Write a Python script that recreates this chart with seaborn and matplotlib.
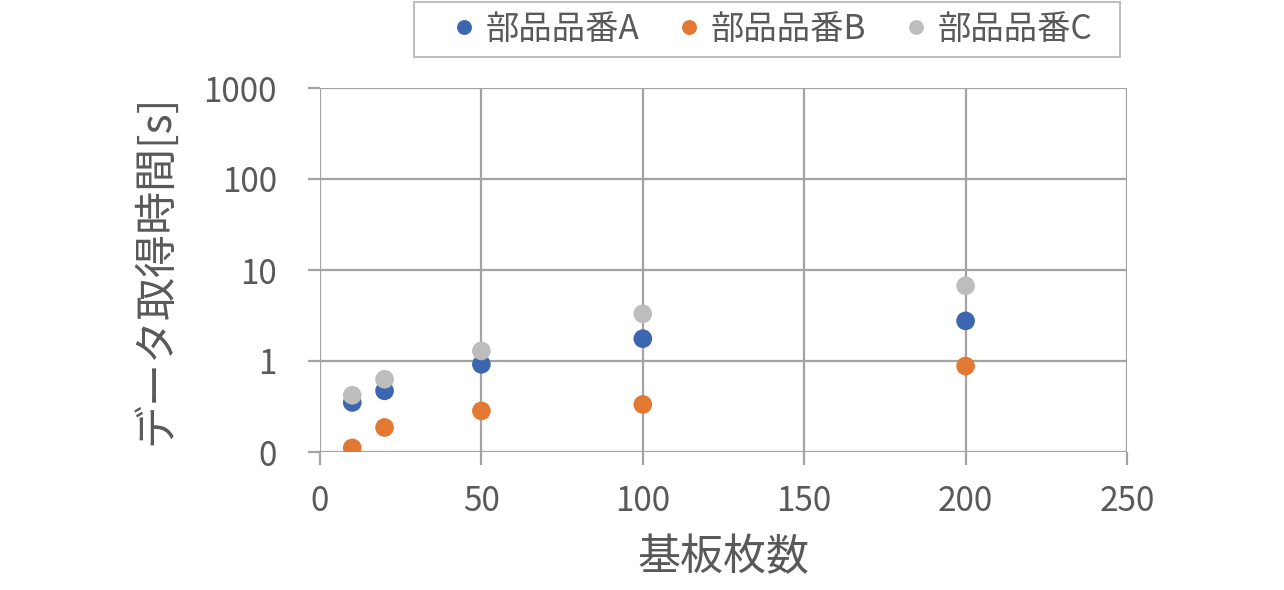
import numpy as np
import pandas as pd
import matplotlib
matplotlib.use("Agg")
import matplotlib.pyplot as plt
import seaborn as sns
from matplotlib.patches import Rectangle
from matplotlib.ticker import FixedLocator, FixedFormatter

# data
boards = [10, 20, 50, 100, 200]
part_a = [0.35, 0.47, 0.92, 1.76, 2.76]
part_b = [0.111, 0.186, 0.283, 0.333, 0.88]
part_c = [0.42, 0.63, 1.29, 3.30, 6.71]
series_names = ["部品品番A", "部品品番B", "部品品番C"]
y_ticks = [0.1, 1, 10, 100, 1000]
y_tick_labels = ["0", "1", "10", "100", "1000"]
x_ticks = [0, 50, 100, 150, 200, 250]

colors = ["#3D66B0", "#E27831", "#BDBDBD"]
GRID = "#A3A3A3"
TEXT = "#595959"

df = pd.DataFrame({
    "boards": boards * 3,
    "time": part_a + part_b + part_c,
    "series": np.repeat(series_names, len(boards)),
})

sns.set_theme(style="white")
plt.rcParams["font.family"] = ["Noto Sans CJK JP", "DejaVu Sans"]

W, H = 1284, 590
fig = plt.figure(figsize=(W / 100, H / 100), dpi=100)
ax = fig.add_axes([320 / W, 1 - 452 / H, (1127 - 320) / W, (452 - 88) / H])

sns.scatterplot(
    data=df, x="boards", y="time", hue="series", palette=colors,
    s=180, edgecolor="none", linewidth=0, ax=ax, zorder=3,
)

ax.set_yscale("log")
ax.set_ylim(0.1, 1000)
ax.set_xlim(0, 250)
ax.yaxis.set_major_locator(FixedLocator(y_ticks))
ax.yaxis.set_major_formatter(FixedFormatter(y_tick_labels))
ax.yaxis.set_minor_locator(FixedLocator([]))
ax.set_xticks(x_ticks)
ax.set_xticklabels([str(t) for t in x_ticks])

ax.grid(True, color=GRID, linewidth=1.6)
ax.set_axisbelow(True)
for sp in ax.spines.values():
    sp.set_visible(False)
ax.tick_params(axis="both", which="major", bottom=True, left=True,
               length=9, width=1.6, color=GRID,
               labelsize=24, labelcolor=TEXT, direction="out")
ax.tick_params(axis="x", pad=14)
ax.tick_params(axis="y", pad=22)

ax.set_xlabel("基板枚数", fontsize=31, color=TEXT, labelpad=12)
ax.set_ylabel("データ取得時間[s]", fontsize=31, color=TEXT, labelpad=18)

# legend box drawn as a figure rectangle, entries without frame
fig.patches.append(Rectangle((414 / W, 1 - 57 / H), (1120 - 414) / W, 55 / H,
                             transform=fig.transFigure, facecolor="white",
                             edgecolor="#BFBFBF", linewidth=1.5, zorder=0))
handles, labels = ax.get_legend_handles_labels()
ax.get_legend().remove()
fig.legend(
    handles, labels, loc="center", bbox_to_anchor=(773 / W, 1 - 29.5 / H),
    ncol=3, fontsize=24, frameon=False, markerscale=0.8,
    handlelength=0.6, handletextpad=0.35, columnspacing=1.2, borderpad=0.2,
    labelcolor=TEXT,
)

fig.savefig("out.png", dpi=100, facecolor="white")
